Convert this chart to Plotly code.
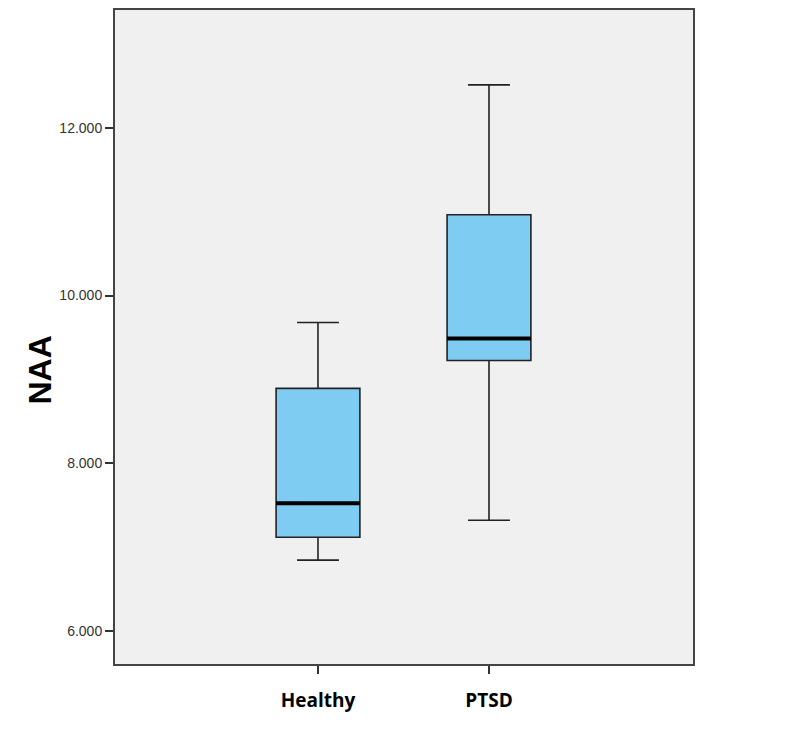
import plotly.graph_objects as go

# group summary values
groups = ["Healthy", "PTSD"]
positions = [0, 1]
lower_whisker = [6.845, 7.321]
q1 = [7.119, 9.226]
median = [7.524, 9.488]
q3 = [8.893, 10.964]
upper_whisker = [9.679, 12.512]

y_ticks = [6, 8, 10, 12]

box_width = 0.49
fill = "#7fccf3"

fig = go.Figure()

for i, g in enumerate(groups):
    fig.add_trace(go.Box(
        x=[positions[i]], q1=[q1[i]], median=[median[i]], q3=[q3[i]],
        lowerfence=[lower_whisker[i]], upperfence=[upper_whisker[i]],
        name=g, width=box_width, whiskerwidth=0.5,
        fillcolor=fill, line=dict(color="#222222", width=1.6),
        boxpoints=False, showlegend=False, hoverinfo="skip",
    ))

# thick median lines on top of the boxes
mx, my = [], []
for p, m in zip(positions, median):
    mx += [p - box_width / 2, p + box_width / 2, None]
    my += [m, m, None]
fig.add_trace(go.Scatter(x=mx, y=my, mode="lines", line=dict(color="black", width=4),
                         showlegend=False, hoverinfo="skip"))

# page body has an 8px margin, so the figure is a bit smaller than the window
fig.update_layout(
    width=791, height=722,
    margin=dict(l=107, r=106, t=0, b=66),
    paper_bgcolor="white",
    plot_bgcolor="#f0f0f0",
    font=dict(family="Liberation Sans, Arial", color="#222222"),
)

fig.update_xaxes(
    range=[-1.187, 2.193], tickvals=positions, ticktext=groups,
    ticks="outside", ticklen=8, tickwidth=1.5, tickcolor="#333333",
    tickfont=dict(family="Open Sans, Liberation Sans", size=19, color="black", weight="bold"),
    ticklabelstandoff=10,
    showline=True, linecolor="#444444", linewidth=2, mirror=True,
    showgrid=False, zeroline=False,
)
fig.update_yaxes(
    range=[5.607, 13.405], tickvals=y_ticks, tickformat=".3f",
    ticks="outside", ticklen=8, tickwidth=2, tickcolor="#333333",
    tickfont=dict(size=14, color="#333333"),
    showline=True, linecolor="#444444", linewidth=2, mirror=True,
    showgrid=False, zeroline=False,
)

fig.add_annotation(
    text="<b>NAA</b>", textangle=-90, xref="paper", yref="paper",
    x=-0.13, y=0.45, xanchor="center", yanchor="middle", showarrow=False,
    font=dict(family="Liberation Sans, Arial", size=32, color="black"),
)

fig.write_html("out.html")
